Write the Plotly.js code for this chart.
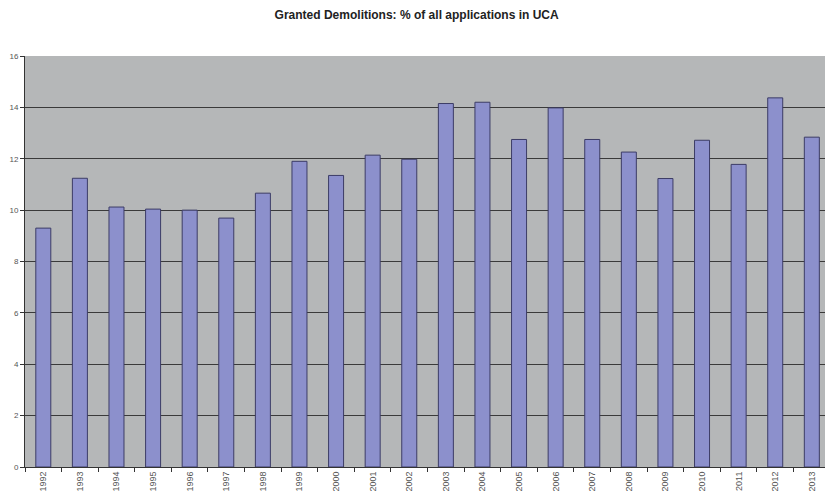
<!DOCTYPE html>
<html>
<head>
<meta charset="utf-8">
<script src="https://cdn.plot.ly/plotly-3.0.1.min.js"></script>
<style>html,body{margin:0;padding:0;background:#fff;}#chart{width:825px;height:494px;}</style>
</head>
<body>
<div id="chart"></div>
<script>
const years = ["1992","1993","1994","1995","1996","1997","1998","1999","2000","2001","2002","2003","2004","2005","2006","2007","2008","2009","2010","2011","2012","2013"];
const percentGranted = [9.3,11.24,10.12,10.04,10.0,9.69,10.66,11.9,11.35,12.14,11.98,14.15,14.2,12.75,13.98,12.75,12.26,11.23,12.72,11.78,14.37,12.84];
const titleText = "Granted Demolitions: % of all applications in UCA";

const trace = {
  type: "bar",
  x: years,
  y: percentGranted,
  marker: {color: "#8c90cc", line: {color: "#3c3c66", width: 1}},
  hoverinfo: "x+y"
};

const layout = {
  width: 825, height: 494,
  margin: {l: 25, r: 0, t: 56, b: 27, pad: 0},
  paper_bgcolor: "#ffffff",
  plot_bgcolor: "#b5b7b8",
  bargap: 0.59,
  showlegend: false,
  title: {text: "<b>" + titleText + "</b>", x: 0.505, xanchor: "center", y: 0.97, yanchor: "middle",
          font: {family: "Liberation Sans, Arial, sans-serif", size: 12, color: "#222"}},
  xaxis: {
    type: "category",
    range: [-0.5, 21.36],
    tickangle: -90,
    ticks: "outside", tickson: "boundaries", ticklen: 4, tickcolor: "#333",
    showline: true, linecolor: "#333", linewidth: 1,
    showgrid: false, zeroline: false,
    tickfont: {family: "Liberation Sans, Arial, sans-serif", size: 9, color: "#555"}
  },
  yaxis: {
    range: [0, 16],
    tickvals: [0,2,4,6,8,10,12,14,16],
    ticks: "outside", ticklen: 4, tickcolor: "#333",
    showline: true, linecolor: "#333", linewidth: 1,
    showgrid: true, gridcolor: "#3a3a3a", gridwidth: 1,
    zeroline: false,
    tickfont: {family: "Liberation Sans, Arial, sans-serif", size: 8, color: "#555"}
  }
};

Plotly.newPlot("chart", [trace], layout, {displayModeBar: false, staticPlot: true});
</script>
</body>
</html>
